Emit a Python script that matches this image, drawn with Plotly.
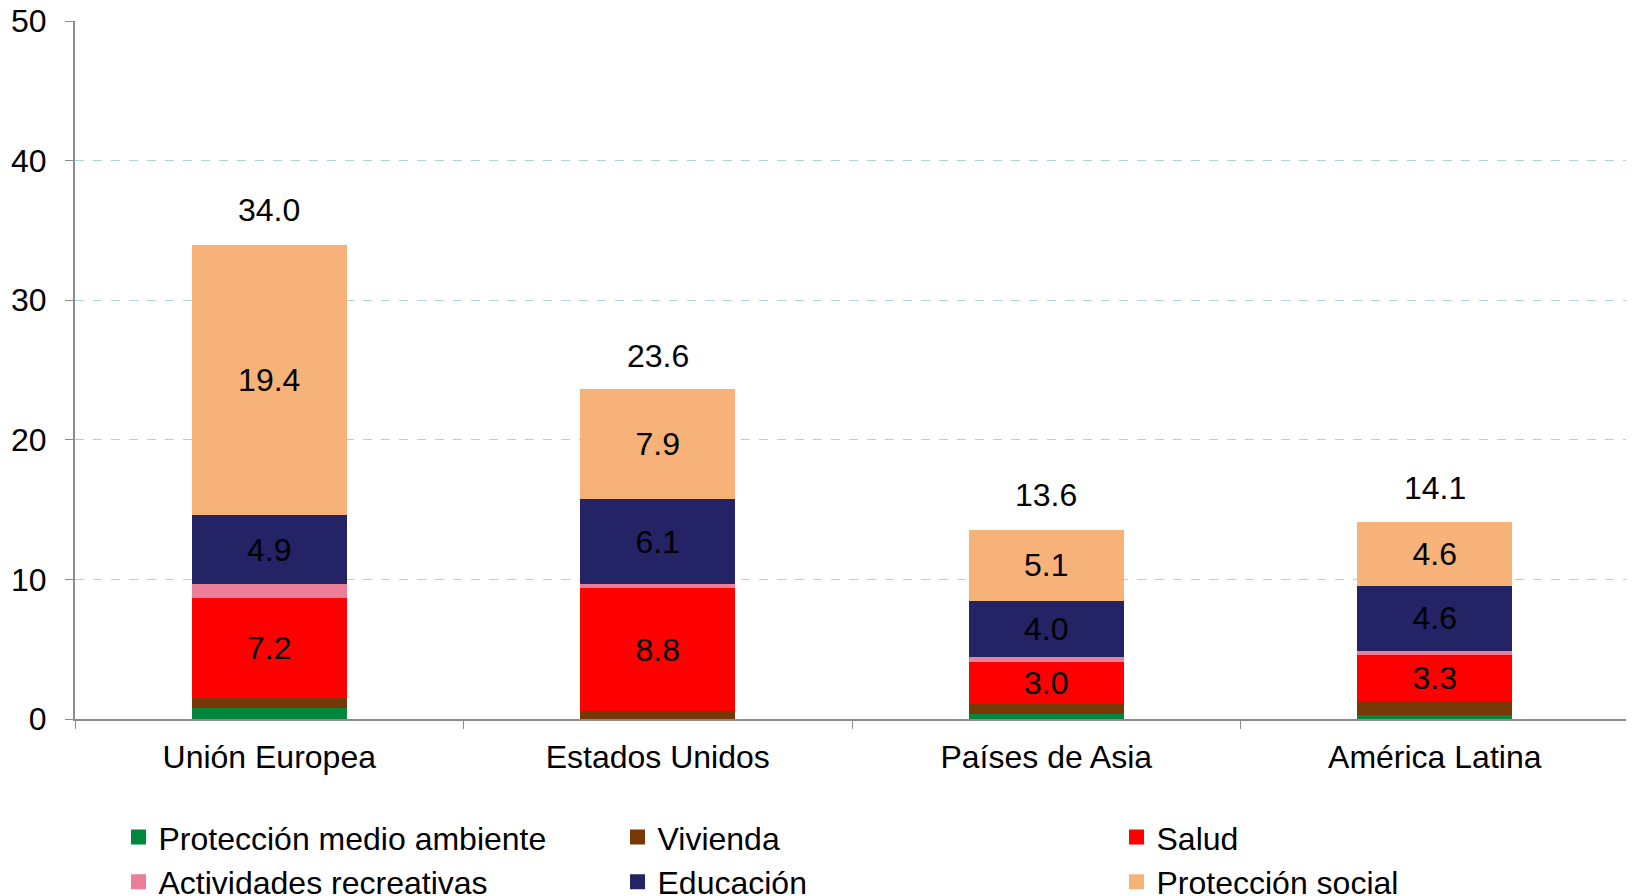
import plotly.graph_objects as go

regions = ["Unión Europea", "Estados Unidos", "Países de Asia", "América Latina"]
medio_ambiente = [0.77, 0.0, 0.36, 0.26]
vivienda = [0.72, 0.55, 0.74, 1.05]
salud = [7.2, 8.8, 3.0, 3.3]
recreativas = [1.0, 0.3, 0.36, 0.29]
educacion = [4.9, 6.1, 4.0, 4.6]
proteccion_social = [19.4, 7.9, 5.1, 4.6]
totales = [34.0, 23.6, 13.6, 14.1]

series = [
    ("Protección medio ambiente", medio_ambiente, "#00873D", False),
    ("Vivienda", vivienda, "#773808", False),
    ("Salud", salud, "#FF0000", True),
    ("Actividades recreativas", recreativas, "#EC7F98", False),
    ("Educación", educacion, "#232366", True),
    ("Protección social", proteccion_social, "#F7B279", True),
]

FONT = "Liberation Sans, Arial, sans-serif"
FS = 32
fig = go.Figure()
for name, vals, color, show in series:
    fig.add_trace(go.Bar(
        x=regions, y=vals, name=name, showlegend=False,
        marker=dict(color=color, line=dict(width=0)),
        text=[f"{v:.1f}" for v in vals] if show else None,
        textposition="inside" if show else "none",
        insidetextanchor="middle",
        textfont=dict(color="black", size=FS, family=FONT),
        constraintext="none",
        width=0.4,
    ))

# legend entries with larger square swatches
for name, vals, color, show in series:
    fig.add_trace(go.Scatter(
        x=[None], y=[None], mode="markers", name=name,
        marker=dict(symbol="square", size=15, color=color),
        hoverinfo="skip",
    ))

for r, t in zip(regions, totales):
    fig.add_annotation(x=r, y=t, text=f"{t:.1f}", showarrow=False,
                       yanchor="bottom", yshift=14,
                       font=dict(size=FS, color="black", family=FONT))

fig.update_layout(
    barmode="stack",
    width=1626, height=888,
    margin=dict(l=67, r=5, t=13, b=177, autoexpand=False),
    paper_bgcolor="white", plot_bgcolor="white",
    font=dict(family=FONT, size=FS, color="black"),
    showlegend=True,
    legend=dict(orientation="h", x=0.028, xanchor="left", y=-0.130, yanchor="top",
                traceorder="normal", entrywidth=454, entrywidthmode="pixels",
                font=dict(size=FS, family=FONT), itemwidth=30, tracegroupgap=0,
                itemsizing="trace"),
)
fig.update_yaxes(range=[0, 50], dtick=10, showgrid=True, gridcolor="#A9D6DE",
                 griddash="dash", gridwidth=1, showline=True, linecolor="#8C8C8C",
                 linewidth=2, ticks="outside", ticklen=8, tickcolor="#8C8C8C",
                 tickfont=dict(size=FS, color="black"), zeroline=False,
                 ticklabelstandoff=12, ticklabeloverflow="allow")
fig.update_xaxes(showline=True, linecolor="#8C8C8C", linewidth=2, ticks="outside",
                 tickson="boundaries", ticklen=8, tickcolor="#8C8C8C",
                 tickfont=dict(size=FS, color="black"), ticklabelstandoff=9)

fig.write_html("out.html")
